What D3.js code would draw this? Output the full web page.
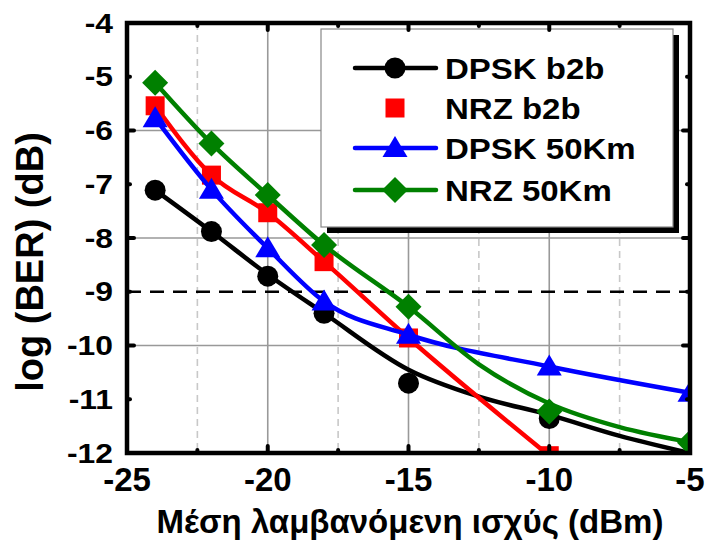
<!DOCTYPE html>
<html>
<head>
<meta charset="utf-8">
<script src="https://cdn.jsdelivr.net/npm/d3@7"></script>
<style>
body { margin: 0; background: #fff; }
text { font-family: Arial, "Liberation Sans", sans-serif; font-weight: bold; fill: #000; }
</style>
</head>
<body>
<div id="chart"></div>
<script>
var power = [-24, -22, -20, -18, -15, -10, -5]
var dpskB2b = [-7.11, -7.88, -8.71, -9.4, -10.7, -11.36]
var nrzB2b = [-5.54, -6.83, -7.53, -8.44, -9.86, -12.05]
var dpsk50 = [-5.77, -7.1, -8.19, -9.18, -9.8, -10.39, -10.88]
var nrz50 = [-5.11, -6.24, -7.2, -8.13, -9.28, -11.23, -11.81]

// fitted curves drawn for DPSK b2b and NRZ 50Km
var fitPower = [-24, -22, -20, -18, -15, -12.5, -10, -7.5, -5]
var dpskB2bFit = [-7.11, -7.88, -8.68, -9.4, -10.45, -10.95, -11.29, -11.68, -12.0]
var nrz50Fit = [-5.11, -6.24, -7.2, -8.13, -9.28, -10.35, -11.08, -11.52, -11.8]

var xTicks = [-25, -20, -15, -10, -5]
var xMinor = [-22.5, -17.5, -12.5, -7.5]
var yTicks = [-4, -5, -6, -7, -8, -9, -10, -11, -12]
var yGrid = [-6, -8, -10]
var refBer = -9

var legendNames = ['DPSK b2b', 'NRZ b2b', 'DPSK 50Km', 'NRZ 50Km']

var W = 707, H = 542
var x = d3.scaleLinear().domain([-25, -5]).range([127, 690])
var y = d3.scaleLinear().domain([-4, -12]).range([23, 453])

var svg = d3.select('#chart').append('svg').attr('width', W).attr('height', H)

svg.append('defs').append('clipPath').attr('id', 'plotclip')
	.append('rect').attr('x', x(-25)).attr('y', y(-4))
	.attr('width', x(-5) - x(-25)).attr('height', y(-12) - y(-4))

// grid
var grid = svg.append('g')
xMinor.forEach(function(v){
	grid.append('line').attr('x1', x(v)).attr('x2', x(v)).attr('y1', y(-4)).attr('y2', y(-12))
		.style('stroke', '#c8c8c8').style('stroke-width', 1.6).style('stroke-dasharray', '7,5')
})
xTicks.slice(1, -1).forEach(function(v){
	grid.append('line').attr('x1', x(v)).attr('x2', x(v)).attr('y1', y(-4)).attr('y2', y(-12))
		.style('stroke', '#999').style('stroke-width', 1.6)
})
yGrid.forEach(function(v){
	grid.append('line').attr('x1', x(-25)).attr('x2', x(-5)).attr('y1', y(v)).attr('y2', y(v))
		.style('stroke', '#999').style('stroke-width', 1.6)
})
grid.append('line').attr('x1', x(-25)).attr('x2', x(-5)).attr('y1', y(refBer)).attr('y2', y(refBer))
	.style('stroke', '#000').style('stroke-width', 2.5).style('stroke-dasharray', '14,9')

// legend box (drawn before data so curves stay on top where they pass)
var lg = svg.append('g')
lg.append('rect').attr('x', 327).attr('y', 35).attr('width', 352).attr('height', 198).style('fill', '#000')
lg.append('rect').attr('x', 321).attr('y', 29).attr('width', 352).attr('height', 198)
	.style('fill', '#fff').style('stroke', '#888').style('stroke-width', 1.2)

var plot = svg.append('g').attr('clip-path', 'url(#plotclip)')

var line = d3.line().x(function(d){ return x(d[0]) }).y(function(d){ return y(d[1]) })
	.curve(d3.curveMonotoneX)

function pairs(xs, ys){ return ys.map(function(v, i){ return [xs[i], v] }) }

function marker(g, kind, cx, cy, color){
	if (kind == 'circle') {
		g.append('circle').attr('cx', cx).attr('cy', cy).attr('r', 10.5).style('fill', color)
	} else if (kind == 'square') {
		g.append('rect').attr('x', cx - 9.5).attr('y', cy - 9.5).attr('width', 19).attr('height', 19).style('fill', color)
	} else if (kind == 'triangle') {
		g.append('path').attr('d', 'M' + cx + ',' + (cy - 12) + 'L' + (cx + 12.5) + ',' + (cy + 9) + 'L' + (cx - 12.5) + ',' + (cy + 9) + 'Z').style('fill', color)
	} else {
		g.append('path').attr('d', 'M' + cx + ',' + (cy - 13) + 'L' + (cx + 13) + ',' + cy + 'L' + cx + ',' + (cy + 13) + 'L' + (cx - 13) + ',' + cy + 'Z').style('fill', color)
	}
}

var series = [
	{ name: legendNames[0], color: '#000000', kind: 'circle', pts: pairs(power, dpskB2b), curve: pairs(fitPower, dpskB2bFit) },
	{ name: legendNames[1], color: '#ff0000', kind: 'square', pts: pairs(power, nrzB2b), curve: pairs(power, nrzB2b) },
	{ name: legendNames[2], color: '#0000ff', kind: 'triangle', pts: pairs(power, dpsk50), curve: pairs(power, dpsk50) },
	{ name: legendNames[3], color: '#008000', kind: 'diamond', pts: pairs(power, nrz50), curve: pairs(fitPower, nrz50Fit) }
]

series.forEach(function(s){
	var g = plot.append('g')
	g.append('path').datum(s.curve).attr('d', line)
		.style('fill', 'none').style('stroke', s.color).style('stroke-width', 4.5).style('stroke-linejoin', 'round')
	s.pts.forEach(function(p){ marker(g, s.kind, x(p[0]), y(p[1]), s.color) })
})

// legend entries
var rowY = [68, 108, 148, 190]
series.forEach(function(s, i){
	if (s.kind != 'square') {
		lg.append('line').attr('x1', 355).attr('x2', 436).attr('y1', rowY[i]).attr('y2', rowY[i])
			.style('stroke', s.color).style('stroke-width', 4.5).style('stroke-linecap', 'round')
	}
	marker(lg, s.kind, 395, rowY[i], s.color)
	lg.append('text').attr('transform', 'translate(445,' + (rowY[i] + 11) + ') scale(1.1,1)')
		.style('font-size', '30px').text(s.name)
})

// frame and ticks
var frame = svg.append('g')
frame.append('rect').attr('x', x(-25)).attr('y', y(-4)).attr('width', x(-5) - x(-25)).attr('height', y(-12) - y(-4))
	.style('fill', 'none').style('stroke', '#000').style('stroke-width', 4.5)

function tick(x1, y1, x2, y2){
	frame.append('line').attr('x1', x1).attr('y1', y1).attr('x2', x2).attr('y2', y2)
		.style('stroke', '#000').style('stroke-width', 4).style('stroke-linecap', 'round')
}
xTicks.concat(xMinor).forEach(function(v){
	var len = xTicks.indexOf(v) >= 0 ? 7 : 3
	tick(x(v), y(-12), x(v), y(-12) - len)
	tick(x(v), y(-4), x(v), y(-4) + len)
})
yTicks.forEach(function(v){
	var len = (v % 2 == 0) ? 7 : 3
	tick(x(-25), y(v), x(-25) + len, y(v))
	tick(x(-5), y(v), x(-5) - len, y(v))
})

// tick labels
xTicks.forEach(function(v){
	svg.append('text').attr('x', x(v)).attr('y', 491).attr('text-anchor', 'middle')
		.style('font-size', '33px').text(v)
})
yTicks.forEach(function(v){
	svg.append('text').attr('transform', 'translate(113,' + (y(v) + 9.7) + ') scale(1.18,1)')
		.attr('text-anchor', 'end').style('font-size', '27px').text(v)
})

// axis titles
svg.append('text').attr('x', 410).attr('y', 533).attr('text-anchor', 'middle')
	.style('font-size', '33px').text('Μέση λαμβανόμενη ισχύς (dBm)')
svg.append('text').attr('transform', 'translate(43,262) rotate(-90)').attr('text-anchor', 'middle')
	.style('font-size', '38px').text('log (BER) (dB)')
</script>
</body>
</html>
